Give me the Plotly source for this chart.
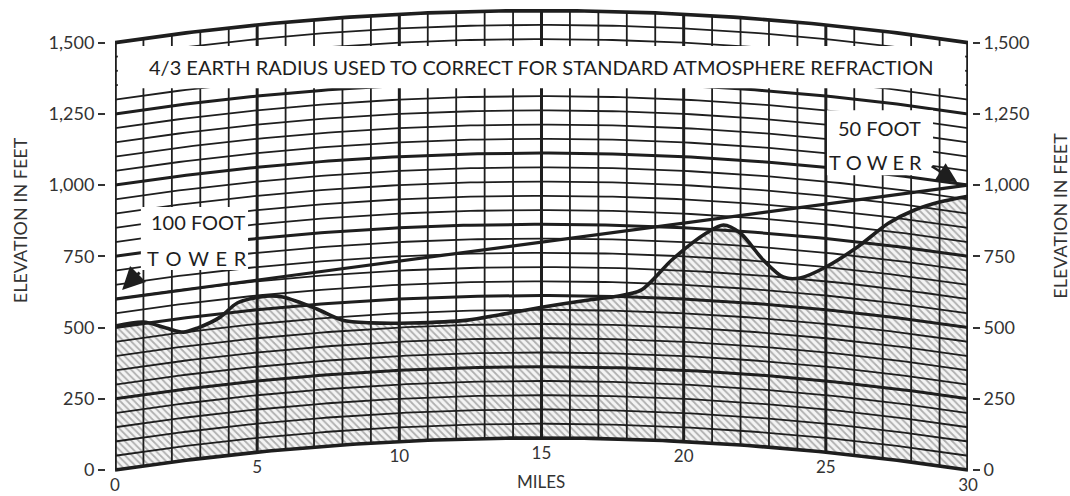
import numpy as np
import plotly.graph_objects as go

# path profile, 30 mile hop, 4/3 earth radius
path_miles = 30
mile_ticks = [0, 5, 10, 15, 20, 25, 30]
elev_ticks = [0, 250, 500, 750, 1000, 1250, 1500]
elev_ticktext = ["0", "250", "500", "750", "1,000", "1,250", "1,500"]

terrain_miles = [0, 1.0, 1.8, 2.4, 2.9, 3.7, 4.3, 5.3, 5.9, 7.1, 8.0, 9.0, 10.4, 12.4,
                 13.5, 15.0, 16.6, 17.6, 18.5, 19.6, 20.8, 21.4, 22.0, 22.8, 23.5,
                 24.1, 25.0, 26.1, 27.2, 28.1, 29.0, 30.0]
terrain_elev = [505, 505, 473, 451, 459, 488, 531, 545, 536, 484, 438, 422, 414, 417,
                433, 459, 485, 500, 525, 637, 736, 768, 743, 655, 601,
                603, 650, 731, 828, 885, 926, 961]

# antenna heights at each end (ground + tower)
los_miles = [0, 30]
los_elev = [600, 1000]

INK = "#1e1e1e"
FONT = "Lato, 'Open Sans', sans-serif"


def bulge(d):
    # earth bulge in feet for 4/3 radius, d in miles
    d = np.asarray(d, dtype=float)
    return d * (path_miles - d) / 2.0


# curved grid
dd = np.linspace(0, path_miles, 121)
grid = {"thin": ([], []), "heavy": ([], []), "border": ([], [])}
for h in range(0, 1501, 50):
    key = "border" if h in (0, 1500) else ("heavy" if h % 250 == 0 else "thin")
    grid[key][0].extend(list(dd) + [None])
    grid[key][1].extend(list(h + bulge(dd)) + [None])
for m in range(0, path_miles + 1):
    key = "border" if m in (0, path_miles) else ("heavy" if m % 5 == 0 else "thin")
    b = float(bulge(m))
    grid[key][0].extend([m, m, None])
    grid[key][1].extend([b, 1500 + b, None])

widths = {"thin": 1.8, "heavy": 3.0, "border": 3.6}

fig = go.Figure()

# terrain fill (hatched) between earth curve and profile
fig.add_trace(go.Scatter(x=dd, y=bulge(dd), mode="lines", line=dict(width=0),
                         hoverinfo="skip", showlegend=False))
fig.add_trace(go.Scatter(
    x=terrain_miles, y=np.array(terrain_elev) + bulge(terrain_miles),
    mode="lines", line=dict(width=0, shape="spline", smoothing=0.8),
    fill="tonexty", fillcolor="#f2f2f2",
    fillpattern=dict(shape="\\", fgcolor="#6a6a6a", bgcolor="#f4f4f4",
                     size=5, solidity=0.35),
    hoverinfo="skip", showlegend=False))

for key in ("thin", "heavy", "border"):
    fig.add_trace(go.Scatter(x=grid[key][0], y=grid[key][1], mode="lines",
                             line=dict(color=INK, width=widths[key]),
                             hoverinfo="skip", showlegend=False))

# terrain profile
fig.add_trace(go.Scatter(
    x=terrain_miles, y=np.array(terrain_elev) + bulge(terrain_miles),
    mode="lines", line=dict(color=INK, width=3.6, shape="spline", smoothing=0.8),
    showlegend=False))

# line of sight
fig.add_trace(go.Scatter(x=los_miles, y=los_elev, mode="lines",
                         line=dict(color=INK, width=3.2), showlegend=False))

# mile labels follow the earth curve
fig.add_trace(go.Scatter(
    x=mile_ticks, y=bulge(mile_ticks) - 58, mode="text",
    text=[str(m) for m in mile_ticks], textfont=dict(size=17, color="#333", family=FONT),
    cliponaxis=False, showlegend=False, hoverinfo="skip"))

# dummy trace for right axis
fig.add_trace(go.Scatter(x=[0], y=[0], yaxis="y2", mode="markers",
                         marker=dict(opacity=0), showlegend=False, hoverinfo="skip"))

# white label boxes
boxes = [(0.1, 29.9, 1340, 1488), (0.91, 4.68, 702, 923), (25.04, 28.77, 1035, 1263)]
for x0, x1, y0, y1 in boxes:
    fig.add_shape(type="rect", xref="x", yref="y", x0=x0, x1=x1, y0=y0, y1=y1,
                  fillcolor="white", line=dict(width=0), layer="above")

txt = dict(size=20, color=INK, family=FONT)
fig.add_annotation(x=15, y=1414, text="4/3 EARTH RADIUS USED TO CORRECT FOR STANDARD ATMOSPHERE REFRACTION",
                   showarrow=False, font=txt)
fig.add_annotation(x=2.92, y=870, text="100 FOOT", showarrow=False, font=txt)
fig.add_annotation(x=2.88, y=744, text="T\u2004O\u2004W\u2004E\u2004R", showarrow=False, font=txt)
fig.add_annotation(x=26.9, y=1200, text="50 FOOT", showarrow=False, font=txt)
fig.add_annotation(x=26.73, y=1081, text="T\u2005O\u2005W\u2005E\u2005R", showarrow=False, font=txt)
fig.add_annotation(x=15, y=-39, text="MILES", showarrow=False,
                   font=dict(size=17, color="#333", family=FONT))

# tower arrows
fig.add_annotation(x=0.25, y=632, text="", showarrow=True, ax=19, ay=-19,
                   arrowhead=2, arrowsize=1.5, arrowwidth=3, arrowcolor=INK)
fig.add_annotation(x=29.62, y=1010, text="", showarrow=True, ax=-27, ay=-17,
                   arrowhead=2, arrowsize=1.6, arrowwidth=2.5, arrowcolor=INK)

# axis titles
title_font = dict(size=18, color="#333", family=FONT)
fig.add_annotation(xref="paper", yref="paper", x=-0.0915, y=0.556, text="ELEVATION IN FEET",
                   xanchor="center", yanchor="middle",
                   textangle=-90, showarrow=False, font=title_font)
fig.add_annotation(xref="paper", yref="paper", x=1.0984, y=0.565, text="ELEVATION IN FEET",
                   xanchor="center", yanchor="middle",
                   textangle=-90, showarrow=False, font=title_font)

yrange = [-91.2, 1649.8]
axis_common = dict(range=yrange, tickvals=elev_ticks, ticktext=elev_ticktext,
                   ticks="outside", ticklen=7, tickwidth=1.6, tickcolor="#333",
                   showgrid=False, zeroline=False, showline=False,
                   tickfont=dict(size=18, color="#333", family=FONT))

fig.update_layout(
    width=1070, height=496,
    margin=dict(l=100, r=96, t=0, b=0),
    paper_bgcolor="white", plot_bgcolor="white",
    font=dict(family=FONT, color=INK),
    xaxis=dict(range=[0, path_miles], domain=[0.01716, 0.99314], visible=False),
    yaxis=dict(anchor="free", position=0.00572, side="left", **axis_common),
    yaxis2=dict(anchor="free", position=0.99771, side="right", overlaying="y", **axis_common),
)

# page has a default body margin; drop it so the figure sits at the window corner
fig.write_html("out.html", config={"displayModeBar": False},
               post_script="document.body.style.margin='0';")
